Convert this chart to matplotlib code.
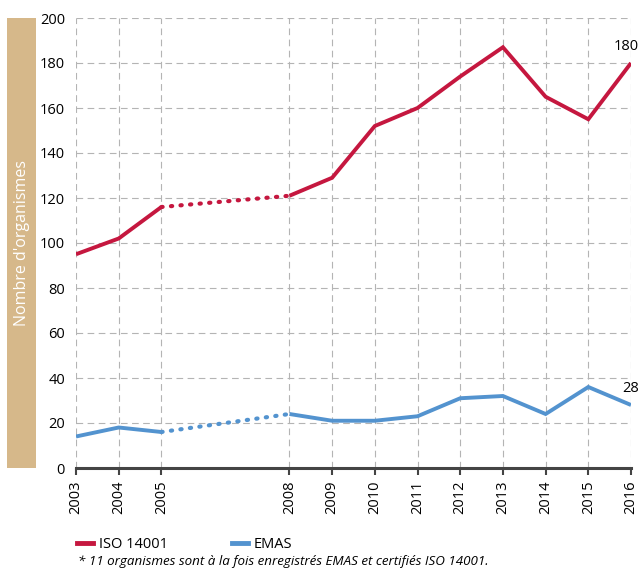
import matplotlib
matplotlib.use("Agg")
import matplotlib.pyplot as plt
from matplotlib.patches import Rectangle
from matplotlib.lines import Line2D

plt.rcParams.update({"font.family": ["Open Sans", "DejaVu Sans"], "font.size": 10})

years = [2003, 2004, 2005, 2008, 2009, 2010, 2011, 2012, 2013, 2014, 2015, 2016]
iso = [95, 102, 116, 121, 129, 152, 160, 174, 187, 165, 155, 180]
emas = [14, 18, 16, 24, 21, 21, 23, 31, 32, 24, 36, 28]

RED = "#C5173F"
BLUE = "#5393CF"
TAN = "#D6B88A"

fig = plt.figure(figsize=(6.42, 5.68), dpi=100, facecolor="white")
W, H = 642, 568
ax = fig.add_axes([76 / W, 1 - 468 / H, (631 - 76) / W, (468 - 18) / H])

# solid parts (before 2005 and from 2008), dotted gap 2005 -> 2008
for vals, col in [(iso, RED), (emas, BLUE)]:
    ax.plot(years[:3], vals[:3], color=col, lw=2.8, solid_capstyle="butt", zorder=3)
    ax.plot(years[3:], vals[3:], color=col, lw=2.8, solid_capstyle="butt",
            solid_joinstyle="miter", zorder=3)
    ax.plot(years[2:4], vals[2:4], color=col, lw=3.0, linestyle=(0, (0.3, 2.0)),
            dash_capstyle="round", zorder=3)

ax.text(years[-1] - 0.1, iso[-1] + 4, str(iso[-1]), ha="center", va="bottom", fontsize=10.5)
ax.text(years[-1], emas[-1] + 4, str(emas[-1]), ha="center", va="bottom", fontsize=10.5)

ax.set_xlim(2003, 2016)
ax.set_ylim(0, 200)
ax.set_yticks(range(0, 201, 20))
ax.set_xticks(years)
ax.set_xticklabels([str(y) for y in years], rotation=90, fontsize=10.5)
ax.tick_params(axis="y", length=0, labelsize=10.5, pad=8)
ax.tick_params(axis="x", length=5, width=1.5, color="#444444", pad=4)
ax.grid(True, color="#B4B4B4", linestyle=(0, (6, 4)), lw=0.8)
ax.set_axisbelow(True)
for s in ["top", "right", "left"]:
    ax.spines[s].set_visible(False)
ax.spines["bottom"].set_color("#444444")
ax.spines["bottom"].set_linewidth(2.2)
ax.spines["bottom"].set_zorder(4)

# tan side band with y label
fig.patches.append(Rectangle((7 / W, 1 - 468 / H), 29 / W, 450 / H,
                             transform=fig.transFigure, facecolor=TAN, edgecolor="none"))
fig.text(22 / W, 1 - 243 / H, "Nombre d'organismes", rotation=90, color="white",
         ha="center", va="center", fontsize=11.5)

handles = [Line2D([], [], color=RED, lw=3.5), Line2D([], [], color=BLUE, lw=3.5)]
fig.legend(handles, ["ISO 14001", "EMAS"], loc="center left",
           bbox_to_anchor=(68 / W, 1 - 545 / H), ncol=2, frameon=False,
           handlelength=1.1, handletextpad=0.4, columnspacing=4.4, fontsize=10.5,
           borderpad=0.1)
fig.text(78 / W, 1 - 562 / H,
         "* 11 organismes sont à la fois enregistrés EMAS et certifiés ISO 14001.",
         style="italic", fontsize=9.6, ha="left", va="center")

fig.savefig("out.png", dpi=100, facecolor="white")
